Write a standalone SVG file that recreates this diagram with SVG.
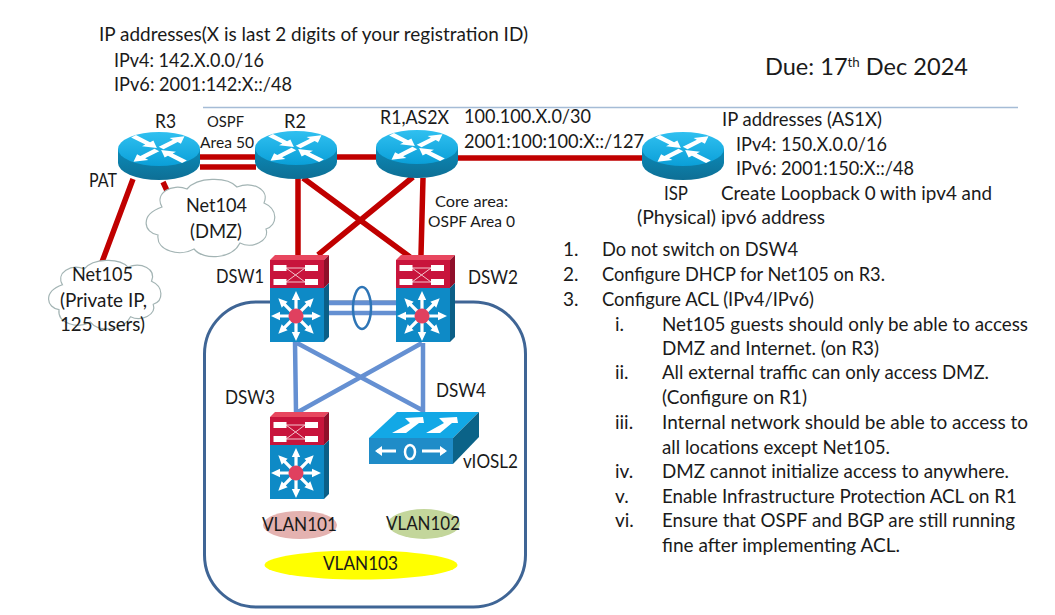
<svg xmlns="http://www.w3.org/2000/svg" xmlns:xlink="http://www.w3.org/1999/xlink" width="1055" height="615" viewBox="0 0 1055 615">
<style>
text{font-family:"Lato","Liberation Sans",sans-serif;font-size:19px;fill:#1a1a1a;}
.sm{font-size:15px;}
.xs{font-size:16px;}
.red{fill:none;stroke:#c00000;stroke-width:5.5;}
.blue{fill:none;stroke:#6590d2;stroke-width:4.5;}
.wh{fill:#fff;}
.cl{fill:#fff;stroke:#a3b4b4;stroke-width:1.2;vector-effect:non-scaling-stroke;}
</style>
<defs>
<linearGradient id="rt" x1="0" y1="0" x2="0" y2="1"><stop offset="0" stop-color="#30c0f0"/><stop offset="1" stop-color="#0a9fd8"/></linearGradient>
<linearGradient id="rb" x1="0" y1="0" x2="0" y2="1"><stop offset="0" stop-color="#0b8ab8"/><stop offset="1" stop-color="#0e6f95"/></linearGradient>
<polygon id="ar" points="0,-3.4 20,-3.4 20,-8 33,0 20,8 20,3.4 0,3.4" fill="#fff"/>
<polygon id="sa" points="0,-1.6 16,-1.6 16,-4.2 25,0 16,4.2 16,1.6 0,1.6" fill="#fff"/>
<g id="router">
<path d="M0,17V31A41,17 0 0 0 82,31V17Z" fill="url(#rb)"/>
<ellipse cx="41" cy="17" rx="41" ry="17" fill="url(#rt)"/>
<use href="#ar" transform="translate(41,17) scale(1,.5) rotate(-45) translate(3,0)"/>
<use href="#ar" transform="translate(41,17) scale(1,.5) rotate(135) translate(3,0)"/>
<use href="#ar" transform="translate(41,17) scale(1,.5) rotate(-135) translate(36,0) rotate(180)"/>
<use href="#ar" transform="translate(41,17) scale(1,.5) rotate(45) translate(36,0) rotate(180)"/>
</g>
<g id="l3">
<polygon points="0,5 5,0 59,0 54,5" fill="#e8475f"/>
<polygon points="54,5 59,0 59,28 54,33" fill="#8f0f2a"/>
<rect x="0" y="5" width="54" height="28" fill="#c8143c"/>
<polygon points="54,33 59,28 59,82 54,87" fill="#0b5f87"/>
<rect x="0" y="33" width="54" height="54" fill="#0e8ac6"/>
<path d="M16,13H35M16,27H35M16,13L35,27M16,27L35,13" stroke="#f3c3cc" stroke-width="1" fill="none"/>
<rect class="wh" x="3.5" y="10" width="13" height="6"/><rect class="wh" x="35" y="10" width="13" height="6"/>
<rect class="wh" x="3.5" y="24" width="13" height="6"/><rect class="wh" x="35" y="24" width="13" height="6"/>
<g transform="translate(26,61)">
<use href="#sa"/><use href="#sa" transform="rotate(45)"/><use href="#sa" transform="rotate(90)"/><use href="#sa" transform="rotate(135)"/>
<use href="#sa" transform="rotate(180)"/><use href="#sa" transform="rotate(225)"/><use href="#sa" transform="rotate(270)"/><use href="#sa" transform="rotate(315)"/>
<circle r="7.5" fill="#e0405f"/>
</g>
</g>
<path id="cloud" class="cl" d="M20,28C12,14 30,4 45,10C55,-2 85,-3 95,8C110,2 128,10 122,24C136,30 136,46 124,50C128,62 110,70 98,64C90,80 62,82 52,70C38,78 14,72 16,56C2,54 -3,36 20,28Z"/>
</defs>
<rect width="1055" height="615" fill="#fff"/>
<line x1="203" y1="107.500" x2="1018" y2="107.500" stroke="#a5bcd6" stroke-width="1.500"/>
<rect id="core-box" x="204.500" y="302" width="321" height="305" rx="52" fill="none" stroke="#3f6595" stroke-width="3"/>
<g id="connectors">
<path class="red" d="M200,157H256M200,167H256M337,157H376M458,158H642M133,179L102,262M163,182L169,195M298,178V255M303,178L410,257M413,177L318,255M423,178L421,255"/>
<path class="blue" d="M329,303H396M329,313H396M295,342L296,412M297,343L422,410M422,343L298,412M423,343V412"/>
<ellipse cx="362" cy="308" rx="9" ry="21" fill="none" stroke="#2e75b6" stroke-width="2.500"/>
</g>
<g id="R3"><use href="#router" x="118" y="132"/><text x="155" y="128" textLength="21" lengthAdjust="spacingAndGlyphs">R3</text></g>
<g id="R2"><use href="#router" x="255" y="131"/><text x="284" y="128" textLength="22" lengthAdjust="spacingAndGlyphs">R2</text></g>
<g id="R1"><use href="#router" x="376" y="130"/><text x="380" y="124" textLength="69" lengthAdjust="spacingAndGlyphs">R1,AS2X</text></g>
<g id="ISP"><use href="#router" x="642" y="132"/><text x="664" y="200" textLength="24" lengthAdjust="spacingAndGlyphs">ISP</text><text x="637" y="224" textLength="79" lengthAdjust="spacingAndGlyphs">(Physical)</text></g>
<g id="Net104"><use href="#cloud" transform="translate(142,179)"/><text x="186" y="212" textLength="61" lengthAdjust="spacingAndGlyphs">Net104</text><text x="190" y="238" textLength="52" lengthAdjust="spacingAndGlyphs">(DMZ)</text></g>
<g id="Net105"><use href="#cloud" transform="translate(45,260) scale(.873,.886)"/><text x="72" y="281" textLength="61" lengthAdjust="spacingAndGlyphs">Net105</text><text x="60" y="307" textLength="87" lengthAdjust="spacingAndGlyphs">(Private IP,</text><text x="60" y="331" textLength="85" lengthAdjust="spacingAndGlyphs">125 users)</text></g>
<g id="DSW1"><use href="#l3" x="270" y="255"/><text x="216" y="283" textLength="48" lengthAdjust="spacingAndGlyphs">DSW1</text></g>
<g id="DSW2"><use href="#l3" x="396" y="255"/><text x="468" y="284" textLength="50" lengthAdjust="spacingAndGlyphs">DSW2</text></g>
<g id="DSW3"><use href="#l3" x="270" y="412"/><text x="225" y="404" textLength="50" lengthAdjust="spacingAndGlyphs">DSW3</text></g>
<g id="DSW4">
<polygon points="369,438 397,412 479,412 453,438" fill="#12a8e6"/>
<polygon points="453,438 479,412 479,437 453,464" fill="#0b6388"/>
<rect x="369" y="438" width="84" height="26" fill="#1f8cc8"/>
<polygon points="392,433 406,433 419,423 424,423 423,417 405,418 410,423" fill="#fff"/>
<polygon points="426,433 440,433 452,423 458,423 457,417 439,418 444,423" fill="#fff"/>
<path d="M377,451H396M422,451H445" stroke="#fff" stroke-width="3" fill="none"/>
<polygon points="375,451 382,446 382,456" fill="#fff"/><polygon points="447,451 440,446 440,456" fill="#fff"/>
<ellipse cx="410" cy="452" rx="5" ry="7" fill="none" stroke="#fff" stroke-width="2.500"/>
<text x="436" y="397" textLength="50" lengthAdjust="spacingAndGlyphs">DSW4</text>
<text x="463" y="468" textLength="55" lengthAdjust="spacingAndGlyphs">vIOSL2</text>
</g>
<g id="VLAN101"><ellipse cx="300" cy="525" rx="37" ry="14" fill="#e4b2b0"/><text x="262" y="531" textLength="75" lengthAdjust="spacingAndGlyphs">VLAN101</text></g>
<g id="VLAN102"><ellipse cx="424" cy="524" rx="36" ry="15" fill="#c3d69b"/><text x="386" y="530" textLength="74" lengthAdjust="spacingAndGlyphs">VLAN102</text></g>
<g id="VLAN103"><ellipse cx="361" cy="565" rx="96.500" ry="14.500" fill="#ffff00"/><text x="323" y="570" textLength="75" lengthAdjust="spacingAndGlyphs">VLAN103</text></g>
<g id="labels">
<text x="99" y="41" textLength="429" lengthAdjust="spacingAndGlyphs">IP addresses(X is last 2 digits of your registration ID)</text>
<text x="114" y="67" textLength="150" lengthAdjust="spacingAndGlyphs">IPv4: 142.X.0.0/16</text>
<text x="114" y="91" textLength="178" lengthAdjust="spacingAndGlyphs">IPv6: 2001:142:X::/48</text>
<text x="765" y="75" style="font-size:23px" textLength="203" lengthAdjust="spacingAndGlyphs">Due: 17<tspan dy="-8" style="font-size:13px">th</tspan><tspan dy="8"> Dec 2024</tspan></text>
<text class="xs" x="207" y="127" textLength="37" lengthAdjust="spacingAndGlyphs">OSPF</text>
<text class="xs" x="200" y="148" textLength="54" lengthAdjust="spacingAndGlyphs">Area 50</text>
<text x="89" y="187" textLength="28" lengthAdjust="spacingAndGlyphs">PAT</text>
<text x="464" y="123" textLength="127" lengthAdjust="spacingAndGlyphs">100.100.X.0/30</text>
<text x="464" y="148" textLength="180" lengthAdjust="spacingAndGlyphs">2001:100:100:X::/127</text>
<text x="722" y="126" textLength="160" lengthAdjust="spacingAndGlyphs">IP addresses (AS1X)</text>
<text x="736" y="151" textLength="151" lengthAdjust="spacingAndGlyphs">IPv4: 150.X.0.0/16</text>
<text x="736" y="175" textLength="178" lengthAdjust="spacingAndGlyphs">IPv6: 2001:150:X::/48</text>
<text x="721" y="200" textLength="271" lengthAdjust="spacingAndGlyphs">Create Loopback 0 with ipv4 and</text>
<text x="721" y="224" textLength="104" lengthAdjust="spacingAndGlyphs">ipv6 address</text>
<text class="sm" x="435" y="207" textLength="73" lengthAdjust="spacingAndGlyphs">Core area:</text>
<text class="sm" x="428" y="227" textLength="87" lengthAdjust="spacingAndGlyphs">OSPF Area 0</text>
</g>
<g id="tasks">
<text x="563" y="256">1.</text><text x="602" y="256" textLength="196" lengthAdjust="spacingAndGlyphs">Do not switch on DSW4</text>
<text x="563" y="281">2.</text><text x="602" y="281" textLength="283" lengthAdjust="spacingAndGlyphs">Configure DHCP for Net105 on R3.</text>
<text x="563" y="306">3.</text><text x="602" y="306" textLength="212" lengthAdjust="spacingAndGlyphs">Configure ACL (IPv4/IPv6)</text>
<text x="615" y="331">i.</text><text x="662" y="331" textLength="366" lengthAdjust="spacingAndGlyphs">Net105 guests should only be able to access</text>
<text x="662" y="355" textLength="217" lengthAdjust="spacingAndGlyphs">DMZ and Internet. (on R3)</text>
<text x="615" y="379">ii.</text><text x="662" y="379" textLength="327" lengthAdjust="spacingAndGlyphs">All external traffic can only access DMZ.</text>
<text x="662" y="404" textLength="145" lengthAdjust="spacingAndGlyphs">(Configure on R1)</text>
<text x="615" y="429">iii.</text><text x="662" y="429" textLength="366" lengthAdjust="spacingAndGlyphs">Internal network should be able to access to</text>
<text x="662" y="454" textLength="228" lengthAdjust="spacingAndGlyphs">all locations except Net105.</text>
<text x="615" y="478">iv.</text><text x="662" y="478" textLength="347" lengthAdjust="spacingAndGlyphs">DMZ cannot initialize access to anywhere.</text>
<text x="615" y="503">v.</text><text x="662" y="503" textLength="355" lengthAdjust="spacingAndGlyphs">Enable Infrastructure Protection ACL on R1</text>
<text x="615" y="527">vi.</text><text x="662" y="527" textLength="353" lengthAdjust="spacingAndGlyphs">Ensure that OSPF and BGP are still running</text>
<text x="662" y="552" textLength="238" lengthAdjust="spacingAndGlyphs">fine after implementing ACL.</text>
</g>
</svg>
